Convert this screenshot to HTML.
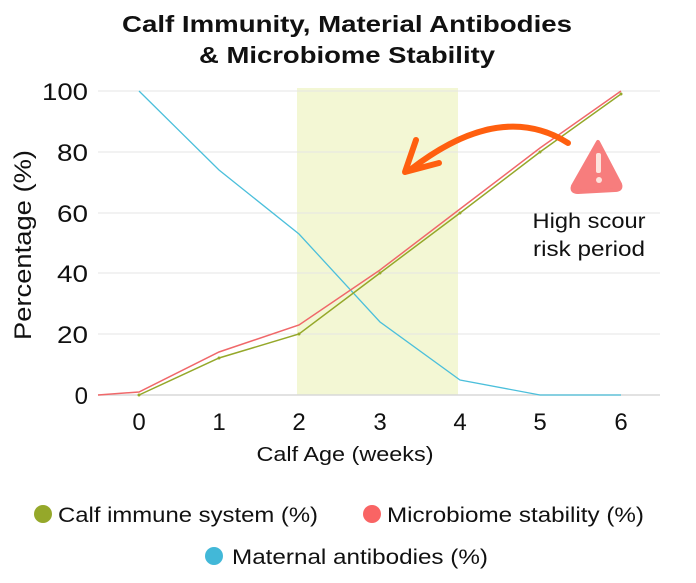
<!DOCTYPE html>
<html><head><meta charset="utf-8"><style>
body{margin:0;background:#fff;}
svg{display:block;font-family:"Liberation Sans",sans-serif;}
</style></head><body>
<svg width="696" height="583" viewBox="0 0 696 583">
<text x="347" y="32" text-anchor="middle" font-size="23" font-weight="bold" fill="#111" textLength="450" lengthAdjust="spacingAndGlyphs">Calf Immunity, Material Antibodies</text>
<text x="347" y="63" text-anchor="middle" font-size="23" font-weight="bold" fill="#111" textLength="296" lengthAdjust="spacingAndGlyphs">&amp; Microbiome Stability</text>
<rect x="297" y="88" width="161" height="307" fill="#f3f7d4"/>
<g stroke="#e4e4e4" stroke-width="1">
<line x1="98" y1="91" x2="660" y2="91"/>
<line x1="98" y1="152" x2="660" y2="152"/>
<line x1="98" y1="213" x2="660" y2="213"/>
<line x1="98" y1="273" x2="660" y2="273"/>
<line x1="98" y1="334" x2="660" y2="334"/>
</g>
<line x1="98" y1="395" x2="660" y2="395" stroke="#d8d8d8" stroke-width="1.5"/>
<g font-size="24" fill="#111" text-anchor="end">
<text x="88" y="100" textLength="46" lengthAdjust="spacingAndGlyphs">100</text><text x="88" y="161" textLength="31" lengthAdjust="spacingAndGlyphs">80</text><text x="88" y="222" textLength="31" lengthAdjust="spacingAndGlyphs">60</text><text x="88" y="282" textLength="31" lengthAdjust="spacingAndGlyphs">40</text><text x="88" y="343" textLength="31" lengthAdjust="spacingAndGlyphs">20</text><text x="88" y="404">0</text>
</g>
<g font-size="24" fill="#111" text-anchor="middle">
<text x="139" y="430">0</text><text x="219" y="430">1</text><text x="299" y="430">2</text><text x="380" y="430">3</text><text x="460" y="430">4</text><text x="540" y="430">5</text><text x="621" y="430">6</text>
</g>
<text x="345" y="461" text-anchor="middle" font-size="20" fill="#111" textLength="177" lengthAdjust="spacingAndGlyphs">Calf Age (weeks)</text>
<text transform="translate(31,245) rotate(-90)" text-anchor="middle" font-size="24" fill="#111" textLength="190" lengthAdjust="spacingAndGlyphs">Percentage (%)</text>
<polyline fill="none" stroke="#4bbfdb" stroke-width="1.3" points="139,91 219,170 299,234 380,322 460,380 540,395 621,395"/>
<polyline fill="none" stroke="#f0686a" stroke-width="1.5" points="98,395 139,392 219,352 299,325 380,270 460,209 540,148 621,91"/>
<polyline fill="none" stroke="#95a82a" stroke-width="1.5" points="139,395 219,358 299,334 380,273 460,213 540,152 621,94"/>
<g fill="#95a82a"><circle cx="139" cy="395" r="1.5"/><circle cx="219" cy="358" r="1.5"/><circle cx="299" cy="334" r="1.5"/><circle cx="380" cy="273" r="1.5"/><circle cx="460" cy="213" r="1.5"/><circle cx="540" cy="152" r="1.5"/><circle cx="621" cy="94" r="1.5"/></g>
<path d="M568,143 Q500,100 410,170" fill="none" stroke="#ff5f0f" stroke-width="6" stroke-linecap="round"/>
<path d="M416,140 L405,172 L439,163" fill="none" stroke="#ff5f0f" stroke-width="6" stroke-linecap="round" stroke-linejoin="round"/>
<path d="M598,142 L620,184 Q622,190 615,190 L578,192 Q571,192 573,186 Z" fill="#f77d7d" stroke="#f77d7d" stroke-width="4" stroke-linejoin="round"/>
<rect x="596" y="153" width="5" height="20" rx="2" fill="#fde2dc"/>
<circle cx="599" cy="180" r="3" fill="#fde2dc"/>
<text x="589" y="228" text-anchor="middle" font-size="21" fill="#111" textLength="113" lengthAdjust="spacingAndGlyphs">High scour</text>
<text x="589" y="256" text-anchor="middle" font-size="21" fill="#111" textLength="112" lengthAdjust="spacingAndGlyphs">risk period</text>
<circle cx="43" cy="514" r="9" fill="#95a82a"/>
<text x="58" y="522" font-size="21" fill="#111" textLength="260" lengthAdjust="spacingAndGlyphs">Calf immune system (%)</text>
<circle cx="372" cy="514" r="9" fill="#f96464"/>
<text x="387" y="522" font-size="21" fill="#111" textLength="257" lengthAdjust="spacingAndGlyphs">Microbiome stability (%)</text>
<circle cx="214" cy="556" r="9" fill="#42b8d8"/>
<text x="232" y="564" font-size="21" fill="#111" textLength="256" lengthAdjust="spacingAndGlyphs">Maternal antibodies (%)</text>
</svg>
</body></html>
